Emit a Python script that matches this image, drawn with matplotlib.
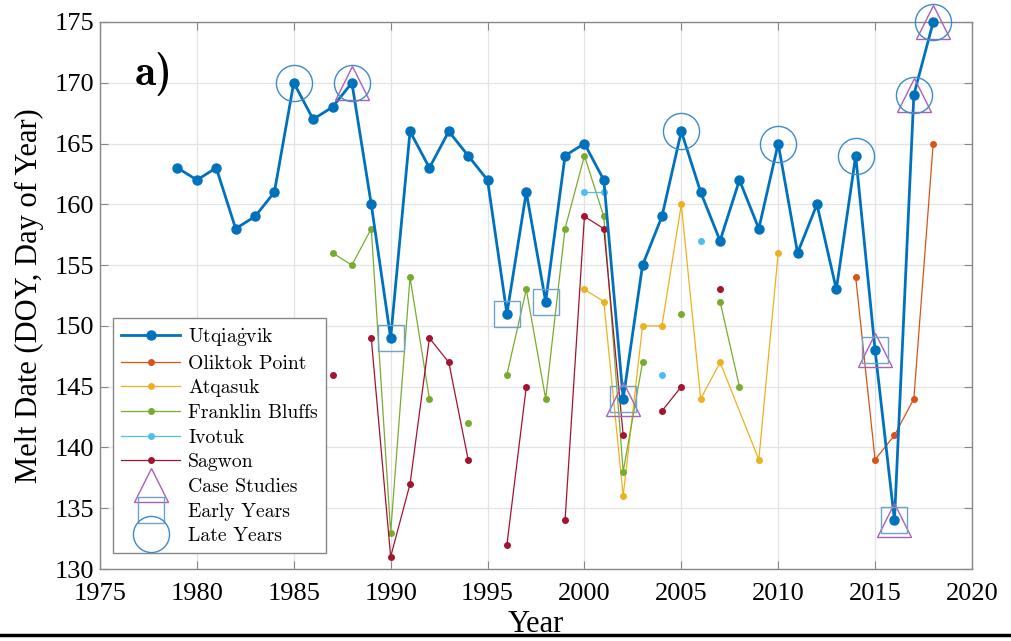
import numpy as np
import matplotlib
matplotlib.use("Agg")
import matplotlib.pyplot as plt
from matplotlib.lines import Line2D

plt.rcParams['font.family'] = ['Liberation Serif', 'DejaVu Serif']
plt.rcParams['mathtext.fontset'] = 'cm'

nan = np.nan

# melt dates (day of year)
utq_years = list(range(1979, 2019))
utq_doy = [163, 162, 163, 158, 159, 161, 170, 167, 168, 170,
           160, 149, 166, 163, 166, 164, 162, 151, 161, 152,
           164, 165, 162, 144, 155, 159, 166, 161, 157, 162,
           158, 165, 156, 160, 153, 164, 148, 134, 169, 175]

olik_years = [2014, 2015, 2016, 2017, 2018]
olik_doy = [154, 139, 141, 144, 165]

atq_years = [2000, 2001, 2002, 2003, 2004, 2005, 2006, 2007, 2009, 2010]
atq_doy = [153, 152, 136, 150, 150, 160, 144, 147, 139, 156]

fb_years = list(range(1987, 2009))
fb_doy = [156, 155, 158, 133, 154, 144, nan, 142, nan, 146, 153,
          144, 158, 164, 159, 138, 147, nan, 151, nan, 152, 145]

ivo_years = [2000, 2001, 2002, 2003, 2004, 2005, 2006]
ivo_doy = [161, 161, nan, nan, 146, nan, 157]

sag_years = list(range(1987, 2008))
sag_doy = [146, nan, 149, 131, 137, 149, 147, 139, nan, 132, 145,
           nan, 134, 159, 158, 141, nan, 143, 145, nan, 153]

case_years = [1988, 2002, 2015, 2016, 2017, 2018]
early_years = [1990, 1996, 1998, 2002, 2015, 2016]
late_years = [1985, 1988, 2005, 2010, 2014, 2017, 2018]

utq = dict(zip(utq_years, utq_doy))

c_blue = '#0072BD'
c_orange = '#D95319'
c_yellow = '#EDB120'
c_green = '#77AC30'
c_cyan = '#4DBEEE'
c_red = '#A2142F'

fig = plt.figure(figsize=(10.11, 6.41), dpi=100)
ax = fig.add_axes([0.0989, 0.1123, 0.8625, 0.8534])

ax.plot(utq_years, utq_doy, '-o', color=c_blue, lw=2.0, ms=6.5,
        label=r'Utqia$\dot{\mathrm{g}}$vik', zorder=5, clip_on=False)
ax.plot(olik_years, olik_doy, '-o', color=c_orange, lw=0.9, ms=4, label='Oliktok Point', zorder=3)
ax.plot(atq_years, atq_doy, '-o', color=c_yellow, lw=0.9, ms=4, label='Atqasuk', zorder=3)
ax.plot(fb_years, fb_doy, '-o', color=c_green, lw=0.9, ms=4, label='Franklin Bluffs', zorder=3)
ax.plot(ivo_years, ivo_doy, '-o', color=c_cyan, lw=0.9, ms=4, label='Ivotuk', zorder=3)
ax.plot(sag_years, sag_doy, '-o', color=c_red, lw=0.9, ms=4, label='Sagwon', zorder=3, clip_on=False)

ax.plot(case_years, [utq[y] for y in case_years], '^', ls='none', ms=25,
        mfc='none', mec='#A860BC', mew=1.0, label='Case Studies', zorder=6, clip_on=False)
ax.plot(early_years, [utq[y] for y in early_years], 's', ls='none', ms=19,
        mfc='none', mec='#6FA3C8', mew=1.0, label='Early Years', zorder=6, clip_on=False)
ax.plot(late_years, [utq[y] for y in late_years], 'o', ls='none', ms=26,
        mfc='none', mec='#3D8BC9', mew=1.0, label='Late Years', zorder=6, clip_on=False)

ax.set_xlim(1975, 2020)
ax.set_ylim(130, 175)
ax.set_xticks(range(1975, 2021, 5))
ax.set_yticks(range(130, 176, 5))
ax.grid(True, color='#e3e3e3', lw=0.9)
ax.set_axisbelow(True)
ax.tick_params(direction='in', length=6, top=True, right=True, labelsize=19,
               color='#888888', pad=4)
ax.tick_params(axis='x', pad=10)
for s in ax.spines.values():
    s.set_color('#888888')
    s.set_linewidth(1.0)

ax.set_xlabel('Year', fontsize=22, labelpad=4)
ax.set_ylabel('Melt Date (DOY, Day of Year)', fontsize=22, labelpad=8)

ax.text(0.04, 0.905, 'a)', transform=ax.transAxes, fontsize=31,
        family=['cmb10', 'DejaVu Serif'], va='center', ha='left')

leg = ax.legend(loc='lower left', bbox_to_anchor=(0.015, 0.029), borderaxespad=0,
                prop={'family': ['cmr10', 'DejaVu Serif'], 'size': 14.2},
                handlelength=3.0, labelspacing=0.34, fancybox=False,
                framealpha=1, edgecolor='#888888', borderpad=0.4, handletextpad=0.4)
leg.get_frame().set_linewidth(1.0)

fig.add_artist(Line2D([0, 1], [0.01, 0.01], transform=fig.transFigure,
                      color='black', lw=2.5))

fig.savefig('out.png', dpi=100)
